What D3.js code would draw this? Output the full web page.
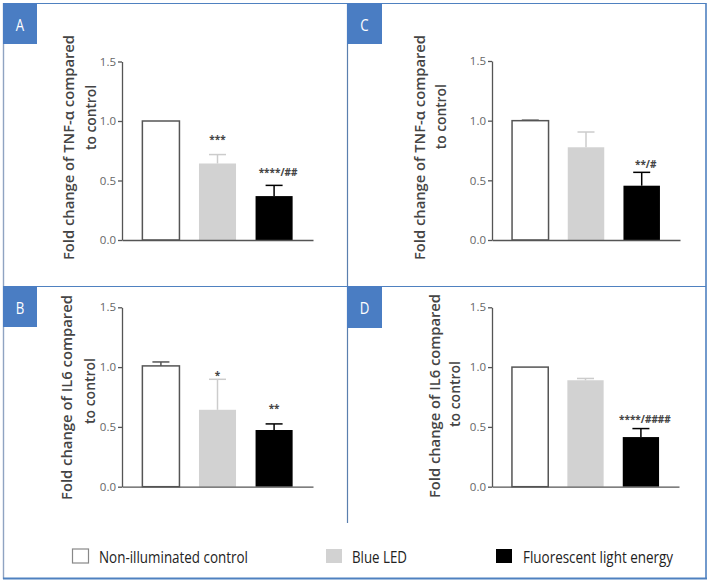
<!DOCTYPE html>
<html>
<head>
<meta charset="utf-8">
<script src="https://cdn.jsdelivr.net/npm/d3@7"></script>
<style>
  html, body { margin: 0; padding: 0; background: #fff; }
  svg { display: block; }
</style>
</head>
<body>
<svg id="chart" width="712" height="581"></svg>
<script>
// ---------------- DATA ----------------
const groups = ["Non-illuminated control", "Blue LED", "Fluorescent light energy"];
const yTickValues = [0, 0.5, 1.0, 1.5];
const yTickLabels = ["0.0", "0.5", "1.0", "1.5"];

const panelLetters = ["A", "B", "C", "D"];
const yTitlesLine1 = ["Fold change of TNF-\u03b1 compared", "Fold change of IL6 compared",
                      "Fold change of TNF-\u03b1 compared", "Fold change of IL6 compared"];
const yTitleLine2 = "to control";

// Panel A: TNF-alpha
const meanA = [1.00, 0.643, 0.369];
const errA  = [0.000, 0.075, 0.090];
const sigA  = ["", "***", "****/##"];
const sigLevelA = [null, 0.857, 0.581];
// Panel B: IL6
const meanB = [1.01, 0.643, 0.474];
const errB  = [0.033, 0.255, 0.051];
const sigB  = ["", "*", "**"];
const sigLevelB = [null, 0.942, 0.669];
// Panel C: TNF-alpha
const meanC = [1.00, 0.777, 0.455];
const errC  = [0.004, 0.128, 0.112];
const sigC  = ["", "", "**/#"];
const sigLevelC = [null, null, 0.643];
// Panel D: IL6
const meanD = [1.00, 0.89, 0.415];
const errD  = [0.000, 0.015, 0.071];
const sigD  = ["", "", "****/####"];
const sigLevelD = [null, null, 0.577];

// ---------------- STYLE / LAYOUT ----------------
const fills   = ["#ffffff", "#d2d2d2", "#000000"];
const strokes = ["#555555", "none", "none"];
const errCol  = ["#555555", "#cccccc", "#000000"];
const frameBlue = "#4f81c0";
const axisCol = "#555555";

const layout = [
  { x0: 122, x1: 313, yT: 61.5, yB: 240,  t1x: 74,  t1y: 147.5, t2x: 96,  t2y: 117.5,
    box: [3, 3, 34, 41], w1: 225, w2: 65 },
  { x0: 122, x1: 313, yT: 307.3, yB: 486.7, t1x: 71.5, t1y: 397.5, t2x: 95, t2y: 391,
    box: [3, 286, 34, 41], w1: 205, w2: 66 },
  { x0: 492, x1: 680, yT: 61, yB: 240,  t1x: 424.5, t1y: 147.5, t2x: 446, t2y: 116.7,
    box: [347, 3, 35, 41], w1: 225, w2: 65 },
  { x0: 492, x1: 679, yT: 307.3, yB: 486.7, t1x: 439.5, t1y: 396, t2x: 460, t2y: 394,
    box: [347, 286, 35, 42], w1: 204, w2: 66 }
];
const panelData = [
  { mean: meanA, err: errA, sig: sigA, lvl: sigLevelA },
  { mean: meanB, err: errB, sig: sigB, lvl: sigLevelB },
  { mean: meanC, err: errC, sig: sigC, lvl: sigLevelC },
  { mean: meanD, err: errD, sig: sigD, lvl: sigLevelD }
];

const svg = d3.select("#chart");
svg.append("rect").attr("width", 712).attr("height", 581).attr("fill", "#fff");

// ---------------- FRAME ----------------
const frame = svg.append("g");
frame.append("line").attr("x1", 3).attr("y1", 3.5).attr("x2", 706).attr("y2", 3.5)
  .attr("stroke", frameBlue).attr("stroke-width", 1.2);
frame.append("line").attr("x1", 3.5).attr("y1", 3).attr("x2", 3.5).attr("y2", 579)
  .attr("stroke", "#8fa3c2").attr("stroke-width", 1.4);
frame.append("line").attr("x1", 706).attr("y1", 3).attr("x2", 706).attr("y2", 579)
  .attr("stroke", frameBlue).attr("stroke-width", 1.6);
frame.append("line").attr("x1", 3).attr("y1", 578.5).attr("x2", 707).attr("y2", 578.5)
  .attr("stroke", frameBlue).attr("stroke-width", 2.2);
frame.append("line").attr("x1", 347.5).attr("y1", 3).attr("x2", 347.5).attr("y2", 523)
  .attr("stroke", "#5a7fae").attr("stroke-width", 1.2);
frame.append("line").attr("x1", 3).attr("y1", 286.5).attr("x2", 706).attr("y2", 286.5)
  .attr("stroke", frameBlue).attr("stroke-width", 1.2);

// ---------------- PANELS ----------------
layout.forEach((L, i) => {
  const D = panelData[i];
  const g = svg.append("g");

  // panel letter box
  g.append("rect").attr("x", L.box[0]).attr("y", L.box[1]).attr("width", L.box[2]).attr("height", L.box[3])
    .attr("fill", "#4a7dc3");
  g.append("text")
    .attr("transform", `translate(${L.box[0] + L.box[2] / 2},${L.box[1] + 28}) scale(0.78,1)`)
    .attr("text-anchor", "middle").attr("fill", "#fff")
    .style("font-family", "'Open Sans', sans-serif")
    .style("font-size", "17px")
    .text(panelLetters[i]);

  const x = d3.scaleBand().domain(groups).range([L.x0, L.x1]).paddingInner(0.345).paddingOuter(0.36);
  const y = d3.scaleLinear().domain([0, 1.5]).range([L.yB, L.yT]);

  // bars
  g.selectAll("rect.bar").data(groups).enter().append("rect")
    .attr("class", "bar")
    .attr("x", d => x(d))
    .attr("width", x.bandwidth())
    .attr("y", (d, j) => y(D.mean[j]))
    .attr("height", (d, j) => y(0) - y(D.mean[j]))
    .attr("fill", (d, j) => fills[j])
    .attr("stroke", (d, j) => strokes[j])
    .attr("stroke-width", 1.5);

  // error bars (upper only)
  groups.forEach((gname, j) => {
    if (D.err[j] <= 0) return;
    const cx = x(gname) + x.bandwidth() / 2;
    const yTop = y(D.mean[j] + D.err[j]);
    g.append("line").attr("x1", cx).attr("x2", cx).attr("y1", y(D.mean[j])).attr("y2", yTop)
      .attr("stroke", errCol[j]).attr("stroke-width", 1.5);
    g.append("line").attr("x1", cx - 8.5).attr("x2", cx + 8.5).attr("y1", yTop).attr("y2", yTop)
      .attr("stroke", errCol[j]).attr("stroke-width", 1.5);
  });

  // significance
  groups.forEach((gname, j) => {
    if (!D.sig[j]) return;
    const cx = x(gname) + x.bandwidth() / 2 + (D.sig[j].includes("/") ? 4 : 0);
    g.append("text").attr("x", cx).attr("y", y(D.lvl[j]) + 5)
      .attr("text-anchor", "middle").attr("fill", "#444")
      .style("font-family", "'Open Sans', sans-serif").style("font-weight", 700)
      .style("font-size", "10px")
      .text(D.sig[j]);
  });

  // y axis
  const yAxis = d3.axisLeft(y).tickValues(yTickValues)
    .tickFormat((d, k) => yTickLabels[k]).tickSize(4).tickPadding(2).tickSizeOuter(0);
  const ga = g.append("g").attr("transform", `translate(${L.x0},0)`).call(yAxis);
  ga.select(".domain").attr("stroke", axisCol).attr("stroke-width", 1.3);
  ga.selectAll(".tick line").attr("stroke", axisCol).attr("stroke-width", 1.3);
  ga.selectAll(".tick text").attr("fill", "#666")
    .style("font-family", "'Open Sans', sans-serif").style("font-size", "11.5px");

  // x axis line
  const xAxis = d3.axisBottom(x).tickSize(0).tickFormat("").tickSizeOuter(0);
  const gx = g.append("g").attr("transform", `translate(0,${L.yB})`).call(xAxis);
  gx.select(".domain").attr("stroke", axisCol).attr("stroke-width", 1.3);

  // y titles
  g.append("text").attr("transform", `translate(${L.t1x},${L.t1y}) rotate(-90)`)
    .attr("text-anchor", "middle").attr("fill", "#444")
    .attr("textLength", L.w1).attr("lengthAdjust", "spacingAndGlyphs")
    .style("font-family", "'Open Sans', sans-serif").style("font-weight", 600).style("font-size", "14.6px")
    .text(yTitlesLine1[i]);
  g.append("text").attr("transform", `translate(${L.t2x},${L.t2y}) rotate(-90)`)
    .attr("text-anchor", "middle").attr("fill", "#444")
    .attr("textLength", L.w2).attr("lengthAdjust", "spacingAndGlyphs")
    .style("font-family", "'Open Sans', sans-serif").style("font-weight", 600).style("font-size", "14.6px")
    .text(yTitleLine2);
});

// ---------------- LEGEND ----------------
const legendBoxX = [72.5, 326, 496];
const legendTextX = [99, 352, 523];
const legendTextW = [149, 55, 150];
const lg = svg.append("g");
groups.forEach((gname, j) => {
  lg.append("rect").attr("x", legendBoxX[j]).attr("y", 549).attr("width", 16).attr("height", 14)
    .attr("fill", fills[j]).attr("stroke", j === 0 ? "#888" : "none").attr("stroke-width", 1.2);
  lg.append("text").attr("x", legendTextX[j]).attr("y", 562.5).attr("fill", "#222")
    .attr("textLength", legendTextW[j]).attr("lengthAdjust", "spacingAndGlyphs")
    .style("font-family", "'Open Sans', sans-serif")
    .style("font-size", "16.5px")
    .text(gname);
});
</script>
</body>
</html>
